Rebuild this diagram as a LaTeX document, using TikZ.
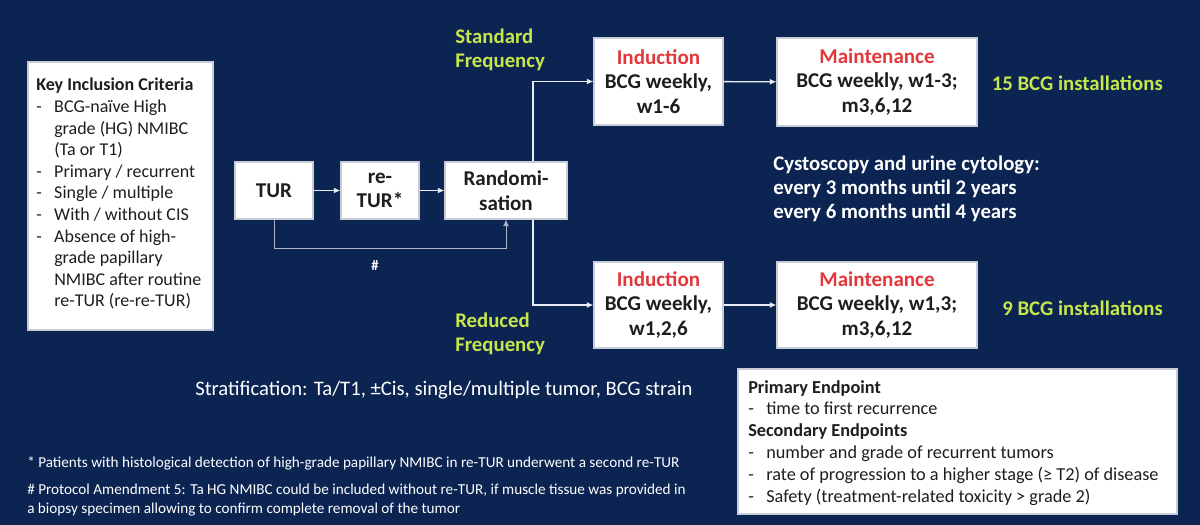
\documentclass[tikz,border=0pt]{standalone}
\usepackage{fontspec}
\setmainfont{Carlito}
\usetikzlibrary{arrows.meta}
\definecolor{bg}{HTML}{0B2452}
\definecolor{lime}{HTML}{C6E64C}
\definecolor{redt}{HTML}{E2383C}
\definecolor{boxline}{HTML}{C8CCD6}
\definecolor{ink}{HTML}{1E1E1E}
\definecolor{wline}{HTML}{E8ECF4}
\definecolor{dline}{HTML}{AEB6C8}
\newcommand{\itm}{\makebox[13.5pt][l]{-}}
\newcommand{\ind}{\hspace*{13.5pt}}
\begin{document}
\begin{tikzpicture}[x=0.75pt,y=-0.75pt,
  box/.style={draw=boxline, fill=white, line width=0.8pt, inner sep=0pt, align=center, text=ink,
    font=\fontsize{15.8}{18.5}\selectfont\bfseries},
  arr/.style={draw=wline, line width=1pt, -{Latex[length=5pt,width=4.5pt]}},
  darr/.style={draw=dline, line width=0.7pt, -{Latex[length=5pt,width=4.5pt]}},
  green/.style={text=lime, font=\fontsize{15.6}{18}\selectfont\bfseries, align=left, inner sep=0pt},
  wtext/.style={text=white, inner sep=0pt, align=left}]
\fill[bg] (0,0) rectangle (1200,525);
\useasboundingbox (0,0) rectangle (1200,525);

% Key inclusion box
\node[box, minimum width=138.75pt, minimum height=201pt] (key) at (120.5,196) {};
\node[anchor=north west, inner sep=0pt, text=ink, align=left,
  font=\fontsize{13.5}{16.2}\selectfont] (keytxt) at (36,78) {%
  \textbf{Key Inclusion Criteria}\\
  \itm BCG-naïve High\\
  \ind grade (HG) NMIBC\\
  \ind (Ta or T1)\\
  \itm Primary / recurrent\\
  \itm Single / multiple\\
  \itm With / without CIS\\
  \itm Absence of high-\\
  \ind grade papillary\\
  \ind NMIBC after routine\\
  \ind re-TUR (re-re-TUR)};

% flow boxes
\node[box, minimum width=58.5pt, minimum height=42.75pt] (tur) at (274,190.5) {TUR};
\node[box, minimum width=58.5pt, minimum height=42.75pt] (retur) at (380,190.5) {re-\\TUR*};
\node[box, minimum width=91.5pt, minimum height=42.75pt] (rand) at (506,190.5) {Randomi-\\sation};

\node[box, minimum width=96.75pt, minimum height=65.25pt] (ind1) at (658.5,81.5)
  {\textcolor{redt}{Induction}\\BCG weekly,\\w1-6};
\node[box, minimum width=96.75pt, minimum height=64.5pt] (ind2) at (658.5,305)
  {\textcolor{redt}{Induction}\\BCG weekly,\\w1,2,6};
\node[box, minimum width=150pt, minimum height=66pt] (mt1) at (877,82)
  {\textcolor{redt}{Maintenance}\\BCG weekly, w1-3;\\m3,6,12};
\node[box, minimum width=150pt, minimum height=64.5pt] (mt2) at (877,305)
  {\textcolor{redt}{Maintenance}\\BCG weekly, w1,3;\\m3,6,12};

% connectors
\draw[arr] (tur) -- (retur);
\draw[arr] (retur) -- (rand);
\coordinate (jx) at (533,0);
\draw[arr] (jx |- rand.north) |- (ind1.west);
\draw[arr] (jx |- rand.south) |- (ind2.west);
\draw[arr] (ind1) -- (mt1);
\draw[arr] (ind2) -- (mt2);
\coordinate (dy) at (0,248);
\draw[darr] (tur.south) -- (tur.south |- dy) -| (rand.south);
\node[text=white, font=\fontsize{11}{13}\selectfont\bfseries, inner sep=0pt] (hash) at (375,265) {\#};

% labels
\node[green, anchor=west] (std) at (455,50) {Standard\\Frequency};
\node[green, anchor=west] (red) at (455,334) {Reduced\\Frequency};
\node[text=lime, font=\fontsize{15.6}{18}\selectfont\bfseries, anchor=east, inner sep=0pt] (n15) at (1163,83) {15 BCG installations};
\node[text=lime, font=\fontsize{15.6}{18}\selectfont\bfseries, anchor=east, inner sep=0pt] (n9) at (1163,308) {9 BCG installations};
\node[wtext, anchor=west, font=\fontsize{15.6}{18}\selectfont\bfseries] (cyst) at (773,189)
  {Cystoscopy and urine cytology:\\every 3 months until 2 years\\every 6 months until 4 years};

\node[wtext, anchor=west, font=\fontsize{15.5}{18}\selectfont] (strat) at (195,390)
  {Stratification: Ta/T1, ±Cis, single/multiple tumor, BCG strain};

% endpoints
\node[box, minimum width=329.25pt, minimum height=108.75pt] (ep) at (957.5,441.5) {};
\node[anchor=north west, inner sep=0pt, text=ink, align=left,
  font=\fontsize{13.7}{16.4}\selectfont] (eptxt) at (748,380) {%
  \textbf{Primary Endpoint}\\
  \itm time to first recurrence\\
  \textbf{Secondary Endpoints}\\
  \itm number and grade of recurrent tumors\\
  \itm rate of progression to a higher stage (≥ T2) of disease\\
  \itm Safety (treatment-related toxicity > grade 2)};

% footnotes
\node[wtext, anchor=west, font=\fontsize{11.4}{15}\selectfont] (fn1) at (27,463)
  {* Patients with histological detection of high-grade papillary NMIBC in re-TUR underwent a second re-TUR};
\node[wtext, anchor=west, font=\fontsize{11.4}{15}\selectfont] (fn2) at (27,490)
  {\# Protocol Amendment 5: Ta HG NMIBC could be included without re-TUR, if muscle tissue was provided in};
\node[wtext, anchor=west, font=\fontsize{11.4}{15}\selectfont] (fn3) at (27,510)
  {a biopsy specimen allowing to confirm complete removal of the tumor};
\end{tikzpicture}
\end{document}
